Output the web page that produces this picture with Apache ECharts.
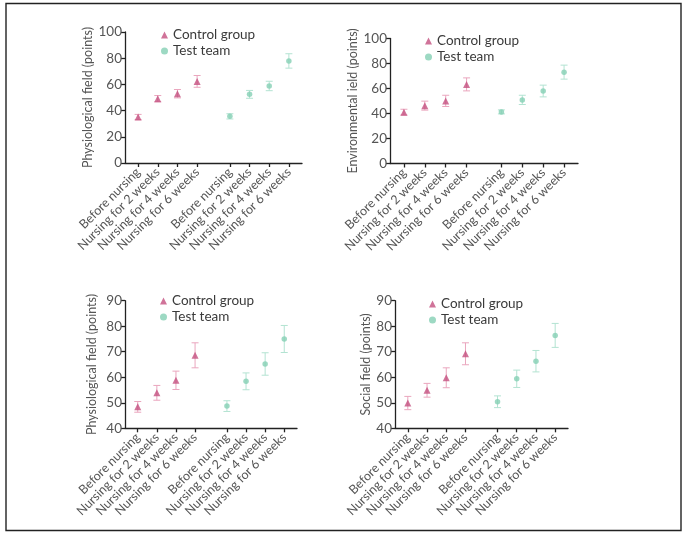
<!DOCTYPE html>
<html>
<head>
<meta charset="utf-8">
<script src="https://cdn.jsdelivr.net/npm/echarts@6/dist/echarts.min.js"></script>
<style>
html,body{margin:0;padding:0;background:#fff;}
#chart{width:687px;height:536px;}
</style>
</head>
<body>
<div id="chart"></div>
<script>
// ---- data ----
const timeLabels = ['Before nursing', 'Nursing for 2 weeks', 'Nursing for 4 weeks', 'Nursing for 6 weeks'];
const groupNames = ['Control group', 'Test team'];
const yTitles = ['Physiological field (points)', 'Environmental ield (points)', 'Physiological field (points)', 'Social field (points)'];
const yRanges = [[0, 100, 20], [0, 100, 20], [40, 90, 10], [40, 90, 10]];

const p1Control = [35.1, 49.1, 52.9, 62.3];
const p1ControlErr = [2.0, 2.4, 3.2, 4.5];
const p1Test = [35.6, 52.4, 58.8, 77.9];
const p1TestErr = [2.0, 3.0, 3.6, 5.5];

const p2Control = [41.1, 46.3, 50.1, 63.3];
const p2ControlErr = [2.3, 3.6, 4.5, 5.2];
const p2Test = [41.3, 50.9, 58.0, 73.1];
const p2TestErr = [1.6, 3.7, 4.7, 5.6];

const p3Control = [48.4, 53.9, 58.8, 68.6];
const p3ControlErr = [2.1, 2.9, 3.6, 4.9];
const p3Test = [48.7, 58.4, 65.2, 75.0];
const p3TestErr = [2.1, 3.3, 4.4, 5.3];

const p4Control = [49.9, 54.9, 59.8, 69.2];
const p4ControlErr = [2.6, 2.7, 3.9, 4.3];
const p4Test = [50.4, 59.4, 66.3, 76.4];
const p4TestErr = [2.3, 3.4, 4.2, 4.7];

const panels = [
  [p1Control, p1ControlErr, p1Test, p1TestErr],
  [p2Control, p2ControlErr, p2Test, p2TestErr],
  [p3Control, p3ControlErr, p3Test, p3TestErr],
  [p4Control, p4ControlErr, p4Test, p4TestErr]
];

// ---- layout / style ----
const FONT = 'Lato, "Noto Sans", sans-serif';
const controlColor = '#c4507f';
const controlErrColor = '#eaa6be';
const testColor = '#84d0b4';
const testErrColor = '#b3e3d2';
const axisColor = '#222';
const textColor = '#3a3a3a';
const labelColor = '#555';

// slot positions on the category axis (two groups with a gap)
const controlSlots = [2, 5, 8, 11];
const testSlots = [16, 19, 22, 25];
const nSlots = 28;
const categories = [];
for (let i = 0; i < nSlots; i++) {
  const ci = controlSlots.indexOf(i), ti = testSlots.indexOf(i);
  if (ci >= 0) categories.push('C|' + timeLabels[ci]);
  else if (ti >= 0) categories.push('T|' + timeLabels[ti]);
  else categories.push('_' + i);
}
const isReal = v => v.charAt(0) !== '_';

const grids = [
  {left: 125, top: 32, width: 177, height: 131},
  {left: 390, top: 38.5, width: 188, height: 125},
  {left: 125, top: 300.7, width: 172, height: 127.6},
  {left: 395, top: 300.7, width: 173, height: 127.6}
];
const nameGaps = [31, 29, 27, 22];
const legendPos = [
  {left: 161, top: 28},
  {left: 425, top: 34},
  {left: 160, top: 294},
  {left: 429, top: 297}
];

const option = {
  animation: false,
  backgroundColor: '#fff',
  textStyle: {fontFamily: FONT},
  graphic: [{
    type: 'rect', shape: {x: 6, y: 3.5, width: 675, height: 527},
    style: {fill: 'none', stroke: '#222', lineWidth: 1.4}, silent: true
  }],
  grid: grids,
  xAxis: [],
  yAxis: [],
  legend: [],
  series: []
};

function errRender(color) {
  return function (params, api) {
    const x = api.value(0);
    const top = api.coord([x, api.value(2)]);
    const bot = api.coord([x, api.value(1)]);
    const w = 3.5;
    const st = {stroke: color, lineWidth: 1};
    return {
      type: 'group',
      children: [
        {type: 'line', shape: {x1: top[0], y1: top[1], x2: bot[0], y2: bot[1]}, style: st},
        {type: 'line', shape: {x1: top[0] - w, y1: top[1], x2: top[0] + w, y2: top[1]}, style: st},
        {type: 'line', shape: {x1: bot[0] - w, y1: bot[1], x2: bot[0] + w, y2: bot[1]}, style: st}
      ]
    };
  };
}

panels.forEach((p, k) => {
  const [cV, cE, tV, tE] = p;
  const r = yRanges[k];
  option.xAxis.push({
    type: 'category', gridIndex: k, data: categories, boundaryGap: false,
    axisLine: {lineStyle: {color: axisColor, width: 1.3}},
    axisTick: {show: true, length: 4, interval: (i, v) => isReal(v), lineStyle: {color: axisColor, width: 1.3}},
    axisLabel: {
      interval: (i, v) => isReal(v), rotate: 45, margin: 7,
      fontSize: 12.5, color: labelColor, fontFamily: FONT,
      formatter: v => isReal(v) ? v.slice(2) : ''
    },
    splitLine: {show: false}
  });
  option.yAxis.push({
    type: 'value', gridIndex: k, min: r[0], max: r[1], interval: r[2],
    name: yTitles[k], nameLocation: 'middle', nameGap: nameGaps[k],
    nameTextStyle: {fontSize: 12.5, color: labelColor, fontFamily: FONT},
    axisLine: {show: true, lineStyle: {color: axisColor, width: 1.3}},
    axisTick: {show: true, length: 4, lineStyle: {color: axisColor, width: 1.3}},
    axisLabel: {fontSize: 13.5, color: labelColor, margin: 3, fontFamily: FONT},
    splitLine: {show: false}
  });
  option.legend.push({
    orient: 'vertical', left: legendPos[k].left, top: legendPos[k].top,
    itemWidth: 7, itemHeight: 7, itemGap: 2, padding: 0,
    textStyle: {fontSize: 13.5, color: textColor, lineHeight: 14, fontFamily: FONT},
    data: [{name: groupNames[0], icon: 'triangle'}, {name: groupNames[1], icon: 'circle', itemStyle: {color: testColor}}]
  });
  option.series.push({
    type: 'custom', name: 'cerr' + k, xAxisIndex: k, yAxisIndex: k,
    renderItem: errRender(controlErrColor),
    data: cV.map((v, i) => [controlSlots[i], v - cE[i], v + cE[i]]), z: 1
  });
  option.series.push({
    type: 'custom', name: 'terr' + k, xAxisIndex: k, yAxisIndex: k,
    renderItem: errRender(testErrColor),
    data: tV.map((v, i) => [testSlots[i], v - tE[i], v + tE[i]]), z: 1
  });
  option.series.push({
    type: 'scatter', name: groupNames[0], xAxisIndex: k, yAxisIndex: k,
    symbol: 'triangle', symbolSize: 7, itemStyle: {color: controlColor},
    data: cV.map((v, i) => [controlSlots[i], v]), z: 3
  });
  option.series.push({
    type: 'scatter', name: groupNames[1], xAxisIndex: k, yAxisIndex: k,
    symbol: 'circle', symbolSize: 5.5, itemStyle: {color: testColor},
    data: tV.map((v, i) => [testSlots[i], v]), z: 3
  });
});

const chart = echarts.init(document.getElementById('chart'), null, {renderer: 'canvas'});
chart.setOption(option);
</script>
</body>
</html>
